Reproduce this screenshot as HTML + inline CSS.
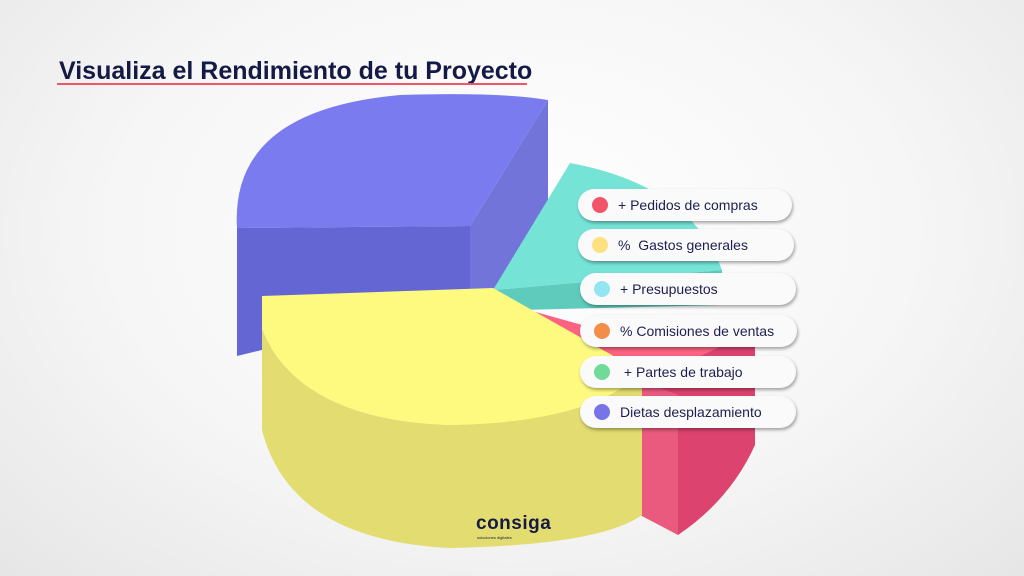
<!DOCTYPE html>
<html><head><meta charset="utf-8"><style>
body{margin:0;width:1024px;height:576px;overflow:hidden;font-family:"Liberation Sans",sans-serif;
background:radial-gradient(ellipse at 50% 40%,#ffffff 0%,#f6f6f6 55%,#e6e6e6 100%);position:relative}
.t{position:absolute;left:59px;top:57px;font-size:25px;font-weight:bold;color:#141a44;letter-spacing:0px;white-space:nowrap}
.u{position:absolute;left:57px;top:83px;width:470px;height:2px;background:#f0556c}
.p{position:absolute;height:32px;border-radius:16px;background:#fafafa;box-shadow:1px 2px 3px rgba(0,0,0,.35);font-size:14px;color:#1d1f4f;line-height:32px;box-sizing:border-box;padding-left:40px}
.p i{position:absolute;left:14px;top:8px;width:16px;height:16px;border-radius:50%}
.logo{position:absolute;left:476px;top:513px;font-size:19px;font-weight:bold;color:#141a44;letter-spacing:0.5px}
.logo small{position:absolute;left:1px;top:22px;font-size:4px;font-weight:normal;white-space:nowrap;letter-spacing:0}
</style></head><body>
<svg width="1024" height="576" style="position:absolute;left:0;top:0">
<path d="M237,228 L237,356 L470,300 L470,226 Z" fill="#6466d4"/>
<path d="M470,226 L548,100 L548,262 L470,300 Z" fill="#7274da"/>
<path d="M237,228 Q230,110 400,95 Q500,92 548,100 L470,226 Z" fill="#7a7bef"/>
<path d="M493,290 L722,270 L722,305 L520,310 Z" fill="#5ecbbd"/>
<path d="M493,290 L570,163 Q690,185 722,270 Z" fill="#76e3d7"/>
<path d="M640,380 L755,330 L755,445 Q730,500 678,535 L640,510 Z" fill="#dd436f"/>
<path d="M640,380 L678,395 L678,535 L640,515 Z" fill="#ea5a7e"/>
<path d="M493,300 L600,330 L755,330 L640,385 Z" fill="#fd6282"/>
<path d="M262,296 L262,430 Q290,540 450,548 Q600,545 642,515 L642,370 Q600,420 450,425 Q300,420 262,330 Z" fill="#e3dc70"/>
<path d="M262,296 L493,288 L642,372 Q590,423 450,425 Q300,420 262,330 Z" fill="#fef97f"/>
</svg>
<div class="t">Visualiza el Rendimiento de tu Proyecto</div>
<div class="u"></div>
<div class="p" style="left:578px;top:189px;width:214px"><i style="background:#f2556a"></i>+ Pedidos de compras</div>
<div class="p" style="left:578px;top:229px;width:216px"><i style="background:#fde07f"></i>%&nbsp; Gastos generales</div>
<div class="p" style="left:580px;top:273px;width:216px"><i style="background:#93e6f1"></i>+ Presupuestos</div>
<div class="p" style="left:580px;top:315px;width:217px"><i style="background:#f28e4a"></i>% Comisiones de ventas</div>
<div class="p" style="left:580px;top:356px;width:216px"><i style="background:#70da98"></i>&nbsp;+ Partes de trabajo</div>
<div class="p" style="left:580px;top:396px;width:216px"><i style="background:#7674e6"></i>Dietas desplazamiento</div>
<div class="logo">consiga<small>soluciones digitales</small></div>
</body></html>
